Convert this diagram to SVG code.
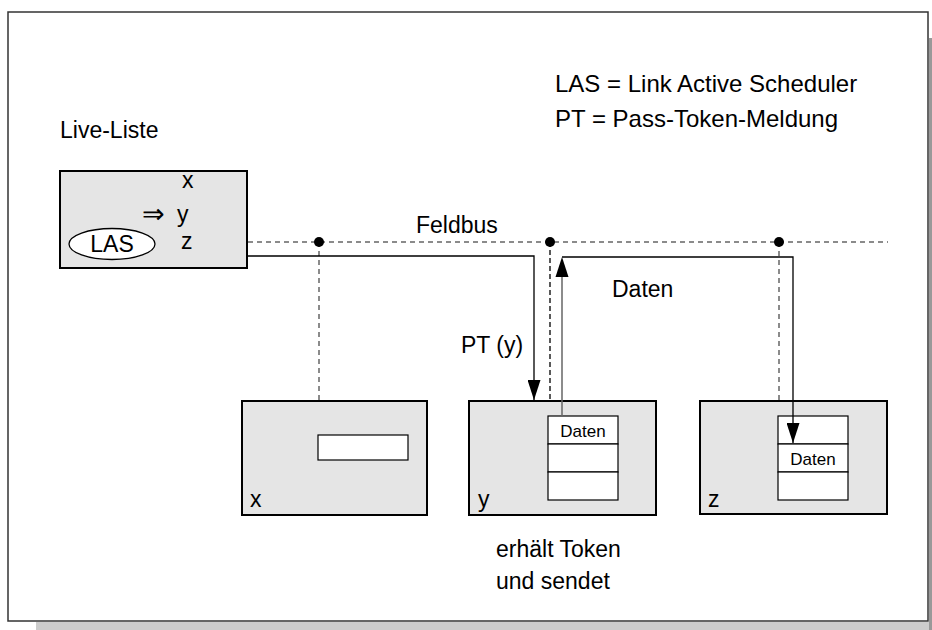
<svg xmlns="http://www.w3.org/2000/svg" width="932" height="630" viewBox="0 0 932 630">
<style>
text{font-family:"Liberation Sans",Arial,sans-serif;fill:#000}
.t{font-size:23px}
.l{font-size:24px}
.s{font-size:17px}
.node{fill:#e5e5e5;stroke:#000;stroke-width:2}
.cell{fill:#fff;stroke:#000;stroke-width:1.2}
.dash{stroke:#666;stroke-width:1.5;stroke-dasharray:5,4;fill:none}
.dashk{stroke:#000;stroke-width:1.3;stroke-dasharray:5,3;fill:none}
.wire{stroke:#000;stroke-width:1.3;fill:none}
.gwire{stroke:#666;stroke-width:1.5;fill:none}
</style>
<defs>
<marker id="ahb" viewBox="0 0 20 13" refX="20" refY="6.5" markerWidth="20" markerHeight="13" markerUnits="userSpaceOnUse" orient="auto">
<path d="M0,0 L20,6.5 L0,13 Z" fill="#000"/>
</marker>
</defs>
<rect x="36" y="622" width="896" height="8" fill="#ccc"/>
<rect x="929" y="38" width="3" height="592" fill="#999"/>
<rect x="8" y="12" width="920" height="609" fill="#fff" stroke="#333" stroke-width="1.5"/>

<g id="legend">
<text class="l" x="555" y="92">LAS = Link Active Scheduler</text>
<text class="l" x="555" y="127">PT = Pass-Token-Meldung</text>
</g>

<g id="live">
<text class="t" x="60" y="138">Live-Liste</text>
<rect class="node" x="60" y="171" width="187" height="97"/>
<text class="t" x="182" y="188">x</text>
<text x="142" y="223" style="font-size:27px">⇒</text>
<text class="t" x="177" y="222">y</text>
<text class="t" x="181" y="249">z</text>
<ellipse cx="112" cy="244" rx="43" ry="15.5" fill="#fff" stroke="#000" stroke-width="1.3"/>
<text class="t" x="112" y="252" text-anchor="middle">LAS</text>
</g>

<g id="node-x">
<rect class="node" x="242" y="401" width="185" height="114"/>
<rect class="cell" x="318" y="435" width="90" height="25"/>
<text class="t" x="250" y="507">x</text>
</g>

<g id="node-y">
<rect class="node" x="469" y="401" width="187" height="114"/>
<rect class="cell" x="548" y="416" width="70" height="28"/>
<rect class="cell" x="548" y="444" width="70" height="28"/>
<rect class="cell" x="548" y="472" width="70" height="28"/>
<text class="s" x="583" y="437" text-anchor="middle">Daten</text>
<text class="t" x="478" y="507">y</text>
<text class="t" x="496" y="557">erhält Token</text>
<text class="t" x="496" y="589">und sendet</text>
</g>

<g id="node-z">
<rect class="node" x="700" y="401" width="187" height="113"/>
<rect class="cell" x="778" y="416" width="70" height="28"/>
<rect class="cell" x="778" y="444" width="70" height="28"/>
<rect class="cell" x="778" y="472" width="70" height="28"/>
<text class="s" x="813" y="465" text-anchor="middle">Daten</text>
<text class="t" x="708" y="507">z</text>
</g>

<g id="connectors">
<line class="dash" x1="248" y1="242" x2="888" y2="242"/>
<line class="dash" x1="319" y1="242" x2="319" y2="400"/>
<line class="dashk" x1="550" y1="242" x2="550" y2="400"/>
<line class="dash" x1="779" y1="242" x2="779" y2="400"/>
<circle cx="319" cy="242" r="5" fill="#000"/>
<circle cx="550" cy="242" r="5" fill="#000"/>
<circle cx="779" cy="242" r="5" fill="#000"/>
<polyline class="wire" points="247,256 534,256 534,400" marker-end="url(#ahb)"/>
<line class="gwire" x1="562" y1="416" x2="562" y2="272"/>
<path d="M555.5,277 L562,257 L568.5,277 Z" fill="#000"/>
<polyline class="wire" points="562,257 793,257 793,443" marker-end="url(#ahb)"/>
<text class="t" x="416" y="233">Feldbus</text>
<text class="t" x="461" y="353">PT (y)</text>
<text class="t" x="612" y="297">Daten</text>
</g>
</svg>
